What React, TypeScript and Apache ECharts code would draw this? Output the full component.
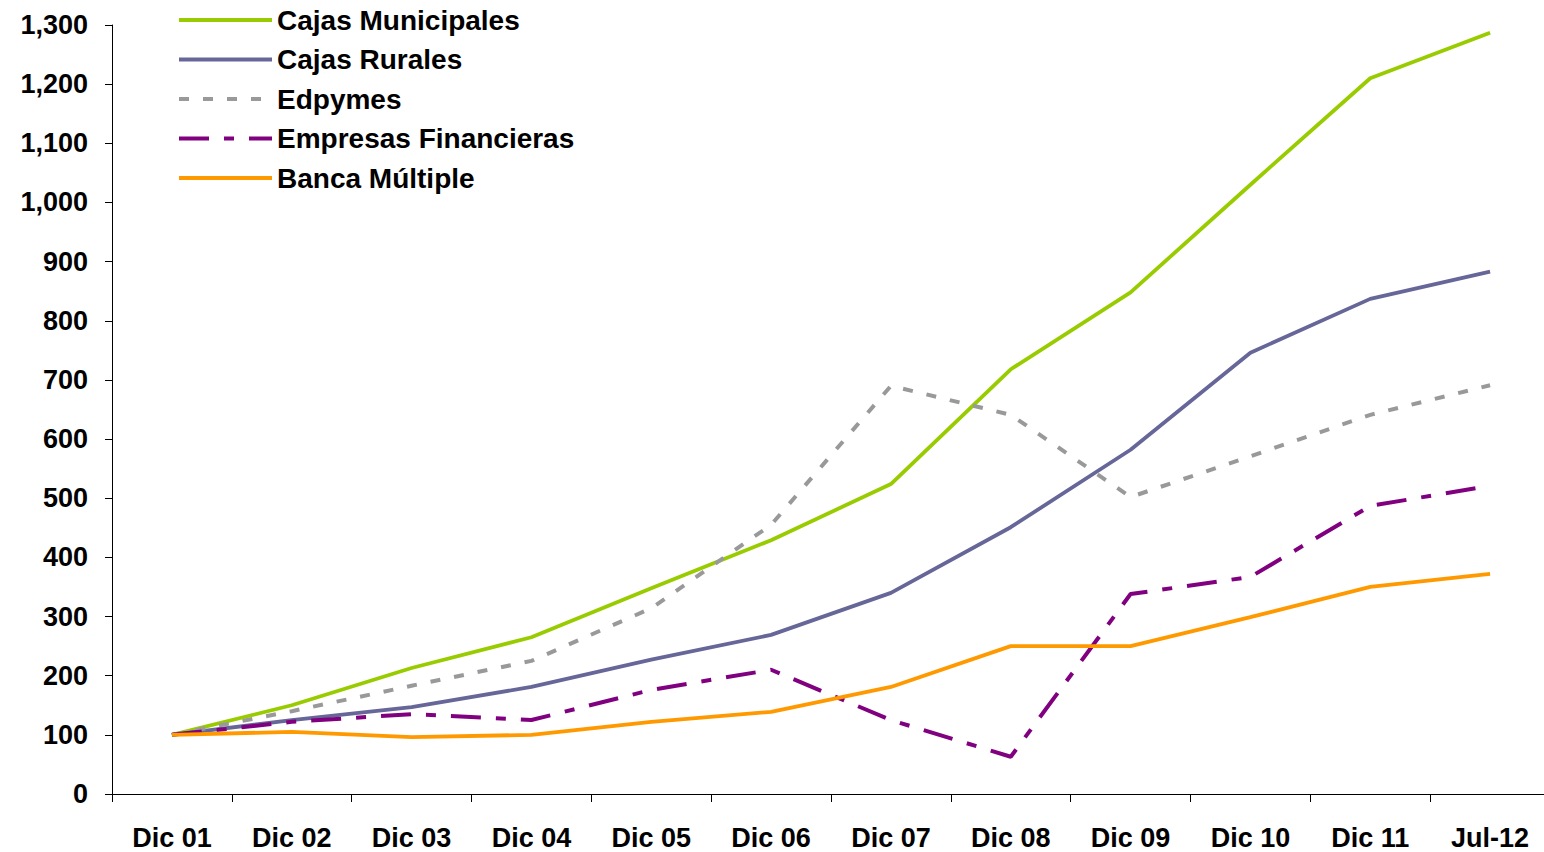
import React, { useEffect, useRef } from "react";
import * as echarts from "echarts";

// Periods on the category axis
const periods = ["Dic 01", "Dic 02", "Dic 03", "Dic 04", "Dic 05", "Dic 06", "Dic 07", "Dic 08", "Dic 09", "Dic 10", "Dic 11", "Jul-12"];

// Index values (Dic 01 = 100) by type of institution
const cajasMunicipales = [100, 150, 213, 265, 348, 429, 524, 718, 848, 1030, 1210, 1287];
const cajasRurales = [100, 125, 147, 181, 227, 269, 340, 451, 582, 746, 837, 883];
const edpymes = [100, 140, 183, 225, 314, 455, 690, 641, 502, 571, 641, 691];
const empresasFinancieras = [100, 122, 135, 125, 176, 210, 125, 63, 338, 367, 487, 521];
const bancaMultiple = [100, 105, 96, 100, 122, 139, 181, 250, 250, 299, 350, 372];

const FONT = "'Liberation Sans', Arial, Helvetica, sans-serif";

export default function App() {
  const ref = useRef<HTMLDivElement>(null);

  useEffect(() => {
    if (!ref.current) return;
    document.body.style.overflow = "hidden";
    const chart = echarts.init(ref.current, null, { renderer: "svg" });

    const line = (name: string, data: number[], color: string, type: any, width = 3.8) => ({
      name,
      type: "line",
      data,
      symbol: "none",
      smooth: false,
      lineStyle: { color, width, type, cap: "butt" },
      itemStyle: { color },
    });

    chart.setOption({
      animation: false,
      backgroundColor: "#ffffff",
      legend: {
        orient: "vertical",
        left: 177,
        top: 6,
        padding: 0,
        itemGap: 11.5,
        itemWidth: 93,
        itemHeight: 14,
        itemStyle: { opacity: 0 },
        lineStyle: { width: 4 },
        textStyle: { fontFamily: FONT, fontSize: 28, fontWeight: "bold", color: "#000" },
        data: ["Cajas Municipales", "Cajas Rurales", "Edpymes", "Empresas Financieras", "Banca Múltiple"],
      },
      grid: { left: 112, top: 25, bottom: 58, right: 0, containLabel: false },
      xAxis: {
        type: "category",
        data: periods,
        boundaryGap: true,
        axisLine: { lineStyle: { color: "#000", width: 1 } },
        axisTick: { show: true, length: 8, lineStyle: { color: "#000" } },
        axisLabel: {
          interval: 0,
          margin: 30,
          fontFamily: FONT,
          fontSize: 27,
          fontWeight: "bold",
          color: "#000",
        },
        splitLine: { show: false },
      },
      yAxis: {
        type: "value",
        min: 0,
        max: 1300,
        interval: 100,
        axisLine: { show: true, lineStyle: { color: "#000", width: 1 } },
        axisTick: { show: true, length: 7, lineStyle: { color: "#000" } },
        axisLabel: {
          margin: 24,
          fontFamily: FONT,
          fontSize: 27,
          fontWeight: "bold",
          color: "#000",
          formatter: (v: number) => v.toLocaleString("en-US"),
        },
        splitLine: { show: false },
      },
      series: [
        line("Cajas Municipales", cajasMunicipales, "#99CC00", "solid"),
        line("Cajas Rurales", cajasRurales, "#666699", "solid"),
        line("Edpymes", edpymes, "#999999", [10, 14], 4),
        line("Empresas Financieras", empresasFinancieras, "#800080", [30, 15, 10, 15], 4),
        line("Banca Múltiple", bancaMultiple, "#FF9900", "solid"),
      ],
    });

    return () => chart.dispose();
  }, []);

  return (
    <div
      ref={ref}
      style={{ position: "absolute", left: 0, top: 0, width: 1550, height: 852, background: "#fff" }}
    />
  );
}
